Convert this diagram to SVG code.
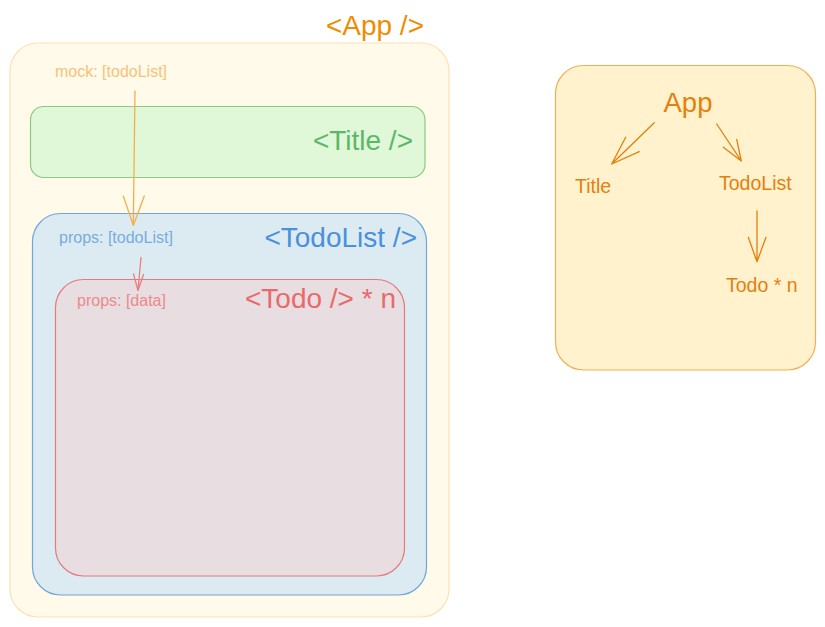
<svg xmlns="http://www.w3.org/2000/svg" width="825" height="627" viewBox="0 0 825 627">
<style>
  text { font-family: "Liberation Sans", Arial, sans-serif; }
  .big { font-size: 28px; text-anchor: end; }
  .small { font-size: 16px; }
  .tree { font-size: 19.5px; fill: #e57f0e; }
  .conn { fill: none; stroke-width: 1.3; stroke-linecap: round; stroke-linejoin: round; }
</style>
<rect width="825" height="627" fill="#ffffff"/>
<g id="app">
  <rect x="10" y="43" width="439" height="574" rx="28" fill="#fffae9" stroke="#fde2b0" stroke-width="1.2"/>
  <text class="big" x="424" y="35" fill="#f08c00">&lt;App /&gt;</text>
  <text class="small" x="55" y="77" fill="#f7c27a">mock: [todoList]</text>
</g>
<g id="title">
  <rect x="30.5" y="106.5" width="394.5" height="71" rx="13" fill="#e0f7d8" stroke="#88cc80" stroke-width="1.2"/>
  <text class="big" x="413" y="150" fill="#5cb868">&lt;Title /&gt;</text>
</g>
<g id="todolist">
  <rect x="32.5" y="213.5" width="394" height="381.5" rx="28" fill="#dcebf2" stroke="#6fa6dc" stroke-width="1.2"/>
  <text class="big" x="417" y="247" fill="#4a90dc">&lt;TodoList /&gt;</text>
  <text class="small" x="59" y="243" fill="#78abe0">props: [todoList]</text>
</g>
<g id="todo">
  <rect x="55.5" y="279.5" width="349" height="296.5" rx="28" fill="#e8dde1" stroke="#e47b7b" stroke-width="1.2"/>
  <text class="big" x="396" y="308" fill="#e86a6a">&lt;Todo /&gt; * n</text>
  <text class="small" x="77" y="306" fill="#ec8a8a">props: [data]</text>
</g>
<g id="tree-box">
  <rect x="555.5" y="65.5" width="260" height="304.5" rx="28" fill="#fff2cc" stroke="#f2b056" stroke-width="1.2"/>
</g>
<g id="tree-app"><text class="tree" x="688" y="112" text-anchor="middle" style="font-size:27.5px">App</text></g>
<g id="tree-title"><text class="tree" x="575" y="193">Title</text></g>
<g id="tree-todolist"><text class="tree" x="719" y="190">TodoList</text></g>
<g id="tree-todo"><text class="tree" x="726" y="292">Todo * n</text></g>
<g id="connectors">
  <path class="conn" stroke="#f2b04c" d="M135 91 L133.3 225.5 M123.3 196 L133.3 225.5 L144.3 196"/>
  <path class="conn" stroke="#e88080" d="M141 257.5 L138 290.5 M133.5 274 L138 290.5 L143.5 274.5"/>
  <path class="conn" stroke="#e57f0e" d="M654.3 122.7 L611.7 164 M625.7 137.3 L611.7 164 L639.3 151.7"/>
  <path class="conn" stroke="#e57f0e" d="M716.7 124 L741.3 161 M723.3 147.3 L741.3 161 L736.7 139.3"/>
  <path class="conn" stroke="#e57f0e" d="M757 211 L757 261.7 M748.3 237.3 L757 261.7 L766 237.3"/>
</g>
</svg>
